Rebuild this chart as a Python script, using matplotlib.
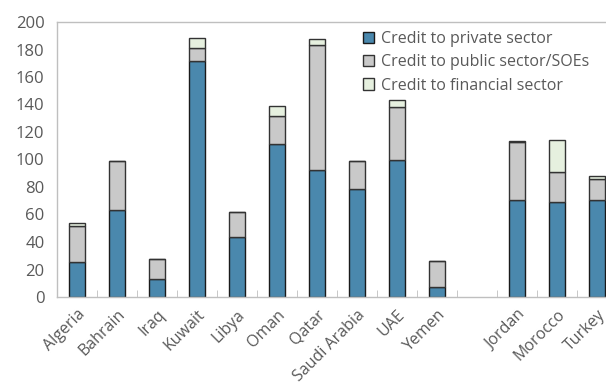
import numpy as np
import matplotlib.pyplot as plt

plt.rcParams['font.family'] = ['Open Sans', 'DejaVu Sans']

countries = ['Algeria', 'Bahrain', 'Iraq', 'Kuwait', 'Libya', 'Oman', 'Qatar',
             'Saudi Arabia', 'UAE', 'Yemen', 'Jordan', 'Morocco', 'Turkey']
positions = [0, 1, 2, 3, 4, 5, 6, 7, 8, 9, 11, 12, 13]

private = [25.2, 63, 12.8, 172, 43.6, 111.3, 92.4, 78.3, 99.6, 7, 70.3, 68.9, 70.3]
public = [26.7, 35.7, 15.2, 8.8, 18, 20.3, 90.9, 20.4, 38.8, 19, 42.7, 22.2, 15.5]
financial = [1.6, 0, 0, 7.2, 0, 7.3, 4.3, 0, 4.9, 0, 0.5, 22.9, 2.4]

blue = '#4a88ad'
gray = '#c9c9c9'
green = '#e6f0df'
text_col = '#595959'
axis_col = '#bfbfbf'

fig = plt.figure(figsize=(6.06, 3.88), dpi=100)
ax = fig.add_axes([57 / 606, 1 - 297 / 388, 560 / 606, 275 / 388])

x = np.array(positions)
pri = np.array(private)
pub = np.array(public)
fin = np.array(financial)
w = 0.4
ax.bar(x, pri, w, color=blue, edgecolor='#1a1a1a', linewidth=1.0,
       label='Credit to private sector')
ax.bar(x, pub, w, bottom=pri, color=gray, edgecolor='#333333', linewidth=1.0,
       label='Credit to public sector/SOEs')
ax.bar(x, fin, w, bottom=pri + pub, color=green, edgecolor='#333333', linewidth=1.0,
       label='Credit to financial sector')

ax.set_xlim(-0.5, 13.5)
ax.set_ylim(0, 200)
ax.set_yticks(range(0, 201, 20))
ax.set_xticks(positions)
ax.set_xticklabels(countries, rotation=45, ha='right', rotation_mode='anchor')
ax.set_xticks(np.arange(0.5, 13.5, 1), minor=True)
ax.tick_params(axis='x', which='major', length=0, pad=7, labelsize=11.5, labelcolor=text_col)
ax.tick_params(axis='x', which='minor', direction='in', length=5, color=axis_col)
ax.tick_params(axis='y', length=0, pad=9, labelsize=12, labelcolor=text_col)

for s in ['left', 'bottom', 'top']:
    ax.spines[s].set_color(axis_col)
    ax.spines[s].set_linewidth(1.0)
ax.spines['right'].set_visible(False)

leg = ax.legend(loc='upper left', bbox_to_anchor=(0.535, 0.99), frameon=False,
                fontsize=11.5, handlelength=0.7, handleheight=0.7, handletextpad=0.4,
                labelspacing=0.45, borderaxespad=0)
for t in leg.get_texts():
    t.set_color(text_col)

fig.savefig('out.png', dpi=100)
